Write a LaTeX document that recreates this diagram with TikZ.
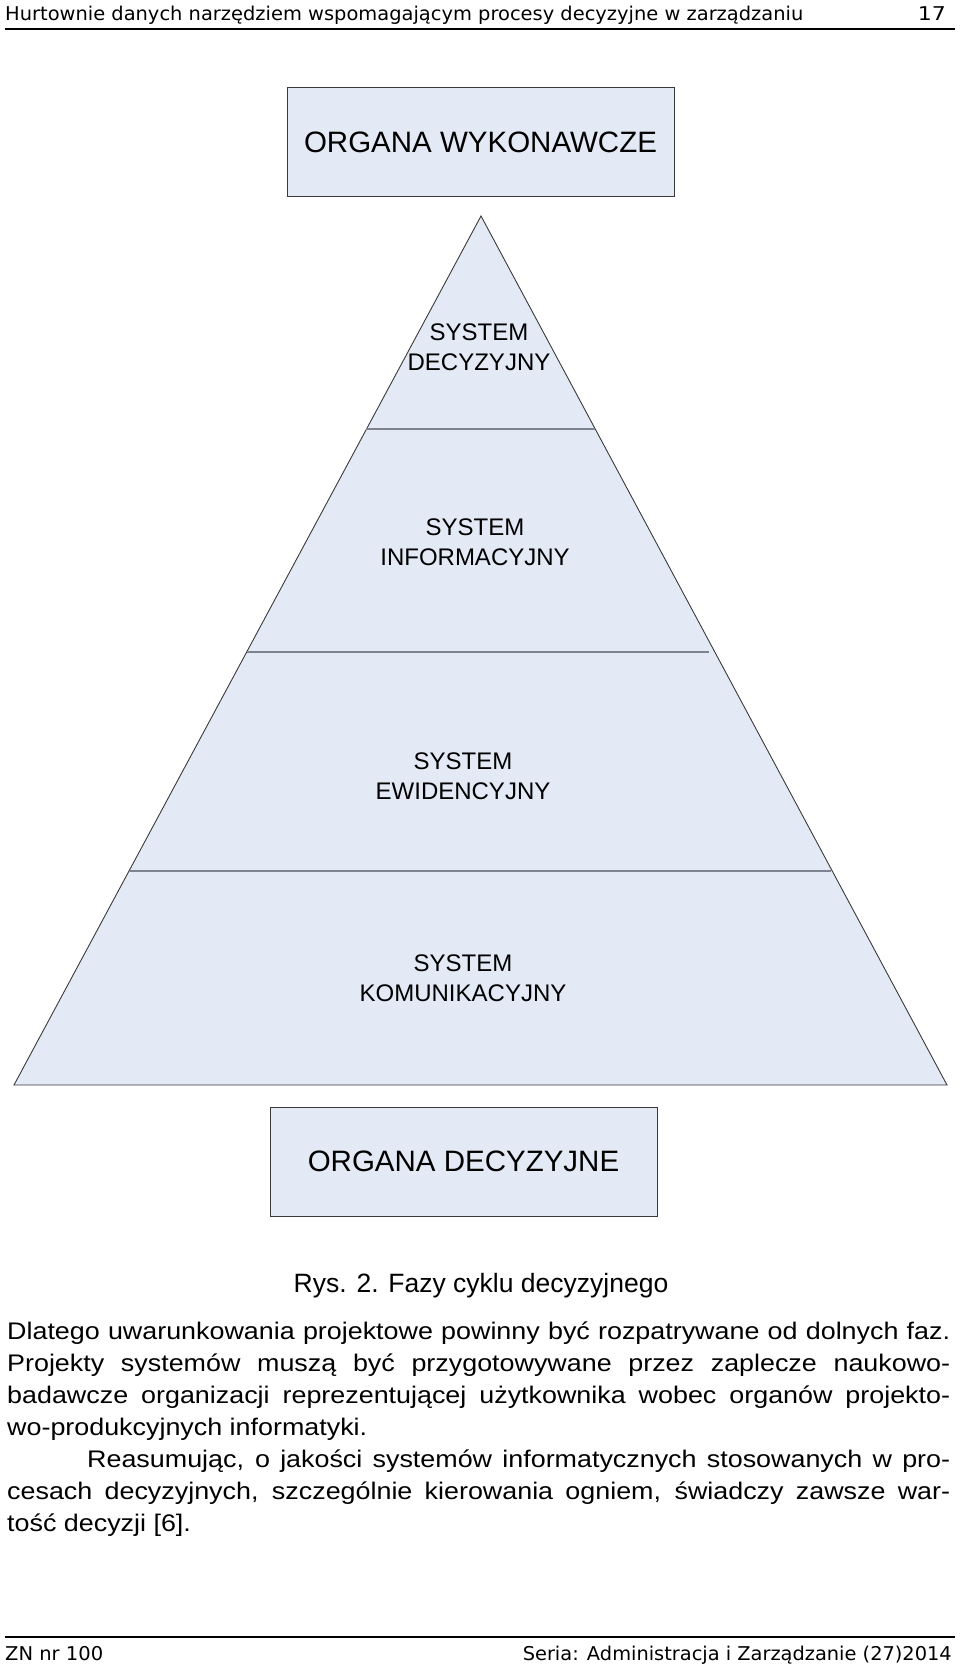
\documentclass[tikz,border=0pt]{standalone}
\usepackage{fontspec}
\usepackage{graphicx}
\setmainfont{Liberation Sans}
\newfontfamily\tahoma{DejaVu Sans}
\definecolor{pfill}{HTML}{E4EAF5}
\definecolor{pline}{HTML}{3A3A3A}
\definecolor{pgray}{HTML}{7D838F}
\tikzset{organ/.style = {draw = pline, fill = pfill, line width = 1, minimum width = 387, minimum height = 109, inner sep = 0, font = \fontsize{29.5}{35}\selectfont}}
\tikzset{layer/.style = {align = center, inner sep = 0, font = \fontsize{24}{30}\selectfont}}
\tikzset{txt/.style = {anchor = base west, inner sep = 0, font = \fontsize{24}{32}\selectfont}}
\tikzset{hdtxt/.style = {anchor = base west, inner sep = 0, font = \tahoma\fontsize{19}{22}\selectfont}}
\newcommand{\hfit}[2]{\resizebox{#1}{\height}{#2}}
\newcommand{\bodyfit}[2]{\scalebox{1.12}[1]{\makebox[#1][s]{#2}}}
\newcommand{\bodynat}[1]{\scalebox{1.12}[1]{#1}}

\begin{document}
\begin{tikzpicture}[x=1pt, y=-1pt]
    \useasboundingbox (0,0) rectangle (960,1669);

    \node [hdtxt] (head) at (5,21) {\hfit{798pt}{Hurtownie danych narzędziem wspomagającym procesy decyzyjne w zarządzaniu}};
    \node [hdtxt, anchor = base east] (pnum) at (946,21) {\hfit{28pt}{17}};
    \draw [line width = 1.6] (5,29) -- (955,29);

    \node [organ] (wyk) at (480.5,142.5) {ORGANA WYKONAWCZE};

    \coordinate (apex) at (481,216);
    \coordinate (bl) at (14,1085);
    \coordinate (br) at (947,1085);
    \filldraw [fill = pfill, draw = pline, line width = 0.9] (apex) -- (br) -- (bl) -- cycle;
    \draw [pgray, line width = 1.5] (366,429) -- (595,429);
    \draw [pgray, line width = 1.5] (247,652) -- (709,652);
    \draw [pgray, line width = 1.5] (130,871) -- (831,871);

    \node [layer] (dec) at (479,347) {SYSTEM\\DECYZYJNY};
    \node [layer] (inf) at (475,542) {SYSTEM\\INFORMACYJNY};
    \node [layer] (ewi) at (463,776) {SYSTEM\\EWIDENCYJNY};
    \node [layer] (kom) at (463,978) {SYSTEM\\KOMUNIKACYJNY};

    \node [organ] (dcz) at (463.5,1161.5) {ORGANA DECYZYJNE};

    \node [txt, anchor = base, font = \fontsize{26.5}{30}\selectfont] (rys) at (481,1292) {Rys. 2. Fazy cyklu decyzyjnego};

    \node [txt] (l1) at (7,1339) {\bodyfit{842pt}{Dlatego uwarunkowania projektowe powinny być rozpatrywane od dolnych faz.}};
    \node [txt] (l2) at (7,1371) {\bodyfit{842pt}{Projekty systemów muszą być przygotowywane przez zaplecze naukowo-}};
    \node [txt] (l3) at (7,1403) {\bodyfit{842pt}{badawcze organizacji reprezentującej użytkownika wobec organów projekto-}};
    \node [txt] (l4) at (7,1435) {\bodynat{wo-produkcyjnych informatyki.}};
    \node [txt] (l5) at (87,1467) {\bodyfit{770.5pt}{Reasumując, o jakości systemów informatycznych stosowanych w pro-}};
    \node [txt] (l6) at (7,1499) {\bodyfit{842pt}{cesach decyzyjnych, szczególnie kierowania ogniem, świadczy zawsze war-}};
    \node [txt] (l7) at (7,1531) {\bodynat{tość decyzji [6].}};

    \draw [line width = 1.6] (5,1637) -- (955,1637);
    \node [hdtxt] (zn) at (5,1660) {\hfit{98pt}{ZN nr 100}};
    \node [hdtxt, anchor = base east] (seria) at (952,1660) {\hfit{429pt}{Seria: Administracja i Zarządzanie (27)2014}};
\end{tikzpicture}
\end{document}
